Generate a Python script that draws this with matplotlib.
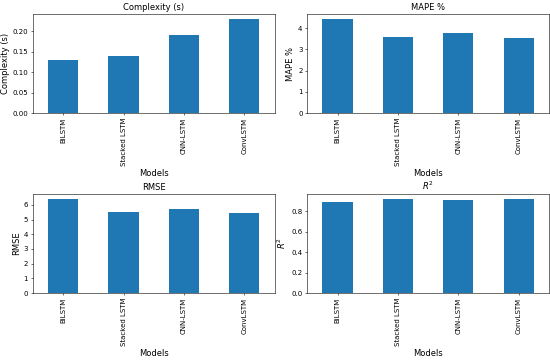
import numpy as np
import pandas as pd
import matplotlib
matplotlib.use("Agg")
import matplotlib.pyplot as plt

models = ["BiLSTM", "Stacked LSTM", "CNN-LSTM", "ConvLSTM"]
complexity = [0.13, 0.14, 0.19, 0.23]
mape = [4.44, 3.58, 3.75, 3.53]
rmse = [6.40, 5.50, 5.68, 5.46]
r2 = [0.89, 0.92, 0.914, 0.92]

df = pd.DataFrame({
    "Complexity (s)": complexity,
    "MAPE %": mape,
    "RMSE": rmse,
    "$R^2$": r2,
}, index=models)
df.index.name = "Models"

plt.rcParams["xtick.labelsize"] = 10
plt.rcParams["ytick.labelsize"] = 10

fig, axes = plt.subplots(2, 2, figsize=(11, 7.22))

for ax, col in zip(axes.flatten(), df.columns):
    df[col].plot(kind="bar", ax=ax, color="#1f77b4")
    ax.set_title(col, fontsize=12)
    ax.set_ylabel(col, fontsize=12)
    ax.set_xlabel("Models", fontsize=12)

plt.subplots_adjust(left=0.06, right=0.998, top=0.961, bottom=0.188,
                    wspace=0.136, hspace=0.82)
plt.savefig("out.png", dpi=50)
